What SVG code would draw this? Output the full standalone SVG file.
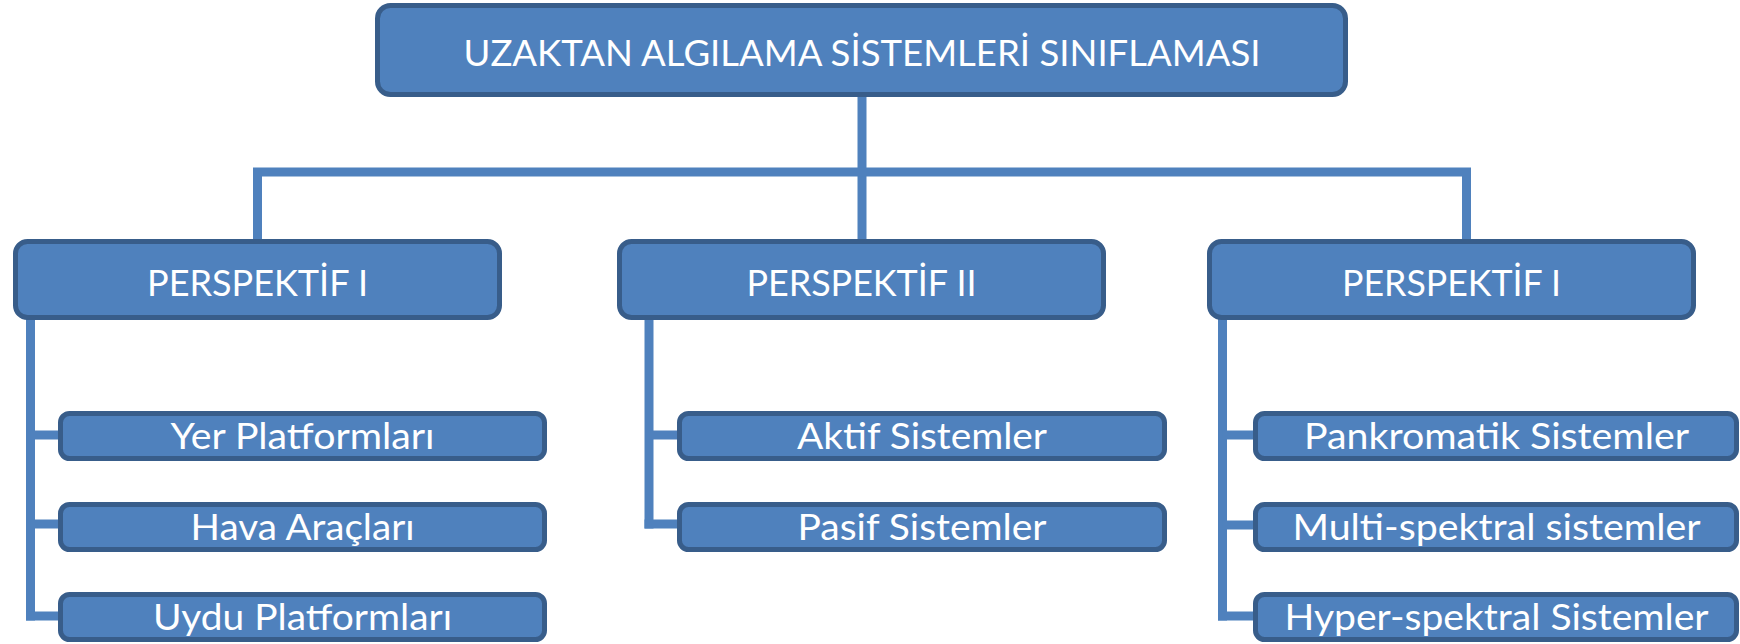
<svg xmlns="http://www.w3.org/2000/svg" width="1740" height="644" viewBox="0 0 1740 644">
  <style>
    .box { fill: #4F81BD; stroke: #385D8A; stroke-width: 5; }
    .lbl { fill: #FFFFFF; font-family: Lato, "Open Sans", "Liberation Sans", sans-serif; font-size: 37px; text-anchor: middle; }
    .conn { fill: none; stroke: #4F81BD; stroke-width: 9; stroke-linejoin: miter; stroke-linecap: butt; }
  </style>
  <rect width="1740" height="644" fill="#FFFFFF"/>

  <g id="connectors">
    <path class="conn" d="M862,97 V239"/>
    <path class="conn" d="M257.5,239 V172 H1466.5 V239"/>
    <path class="conn" d="M30.5,319 V620.5"/>
    <path class="conn" d="M30.5,435 H60"/>
    <path class="conn" d="M30.5,524 H60"/>
    <path class="conn" d="M26,616 H60"/>
    <path class="conn" d="M649,319 V528.5"/>
    <path class="conn" d="M649,435 H679"/>
    <path class="conn" d="M644.5,524 H679"/>
    <path class="conn" d="M1222.5,319 V620.5"/>
    <path class="conn" d="M1222.5,435 H1255"/>
    <path class="conn" d="M1222.5,525 H1255"/>
    <path class="conn" d="M1218,616 H1255"/>
  </g>

  <g id="root">
    <rect class="box" x="377.5" y="5.5" width="968" height="89" rx="13"/>
    <text class="lbl" x="862" y="66" textLength="797" lengthAdjust="spacingAndGlyphs">UZAKTAN ALGILAMA SİSTEMLERİ SINIFLAMASI</text>
  </g>

  <g id="perspektif-1">
    <rect class="box" x="15.5" y="241.5" width="484" height="76" rx="12"/>
    <text class="lbl" x="257.5" y="296" textLength="221" lengthAdjust="spacingAndGlyphs">PERSPEKTİF I</text>
  </g>
  <g id="perspektif-2">
    <rect class="box" x="619.5" y="241.5" width="484" height="76" rx="12"/>
    <text class="lbl" x="861.5" y="296" textLength="230" lengthAdjust="spacingAndGlyphs">PERSPEKTİF II</text>
  </g>
  <g id="perspektif-3">
    <rect class="box" x="1209.5" y="241.5" width="484" height="76" rx="12"/>
    <text class="lbl" x="1451.5" y="296" textLength="219" lengthAdjust="spacingAndGlyphs">PERSPEKTİF I</text>
  </g>

  <g id="yer-platformlari">
    <rect class="box" x="60.5" y="413.5" width="484" height="45" rx="9"/>
    <text class="lbl" x="302.5" y="449" textLength="264" lengthAdjust="spacingAndGlyphs">Yer Platformları</text>
  </g>
  <g id="hava-araclari">
    <rect class="box" x="60.5" y="504.5" width="484" height="45" rx="9"/>
    <text class="lbl" x="302.5" y="540" textLength="224" lengthAdjust="spacingAndGlyphs">Hava Araçları</text>
  </g>
  <g id="uydu-platformlari">
    <rect class="box" x="60.5" y="594.5" width="484" height="45" rx="9"/>
    <text class="lbl" x="302.5" y="630" textLength="299" lengthAdjust="spacingAndGlyphs">Uydu Platformları</text>
  </g>

  <g id="aktif-sistemler">
    <rect class="box" x="679.5" y="413.5" width="485" height="45" rx="9"/>
    <text class="lbl" x="922" y="449" textLength="250" lengthAdjust="spacingAndGlyphs">Aktif Sistemler</text>
  </g>
  <g id="pasif-sistemler">
    <rect class="box" x="679.5" y="504.5" width="485" height="45" rx="9"/>
    <text class="lbl" x="922" y="540" textLength="249" lengthAdjust="spacingAndGlyphs">Pasif Sistemler</text>
  </g>

  <g id="pankromatik-sistemler">
    <rect class="box" x="1255.5" y="413.5" width="481" height="45" rx="9"/>
    <text class="lbl" x="1496.5" y="449" textLength="385" lengthAdjust="spacingAndGlyphs">Pankromatik Sistemler</text>
  </g>
  <g id="multi-spektral-sistemler">
    <rect class="box" x="1255.5" y="504.5" width="481" height="45" rx="9"/>
    <text class="lbl" x="1496.5" y="540" textLength="408" lengthAdjust="spacingAndGlyphs">Multi-spektral sistemler</text>
  </g>
  <g id="hyper-spektral-sistemler">
    <rect class="box" x="1255.5" y="594.5" width="481" height="45" rx="9"/>
    <text class="lbl" x="1496.5" y="630" textLength="424" lengthAdjust="spacingAndGlyphs">Hyper-spektral Sistemler</text>
  </g>
</svg>
